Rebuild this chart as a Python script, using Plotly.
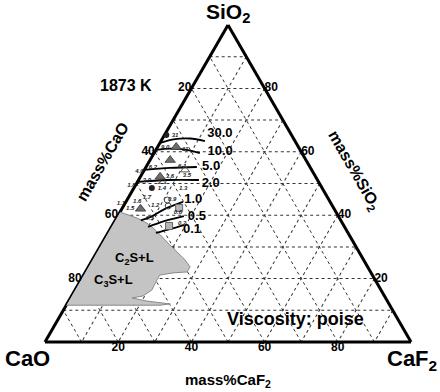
import plotly.graph_objects as go

FONT = "Liberation Sans, Arial, sans-serif"

# ---------------- data (mass%) ----------------
tick_values = [20, 40, 60, 80]

# primary phase field (C2S+L / C3S+L) boundary : SiO2, CaF2 (CaO = balance)
phase_sio2 = [41.0, 39.1, 37.5, 36.0, 33.8, 31.2, 28.4, 25.9, 23.7, 22.1, 21.8, 21.1, 19.6, 16.4, 14.5, 13.9, 12.9, 12.0, 11.6, 11.6]
phase_caf2 = [0.0, 5.6, 9.1, 11.5, 14.6, 18.0, 21.9, 25.3, 27.8, 27.8, 24.1, 20.8, 20.8, 21.0, 19.5, 16.8, 21.4, 28.2, 25.6, 0.0]

# iso-viscosity lines (poise)
visc_levels = ["30.0", "10.0", "5.0", "2.0", "1.0", "0.5", "0.1"]
visc_sio2 = [
    [62.8, 64.0, 64.2, 63.4],
    [60.6, 61.0, 60.7, 59.6],
    [54.3, 54.9, 55.2],
    [50.5, 51.1, 51.1],
    [38.4, 39.4, 42.0, 44.2],
    [36.3, 38.2, 39.7],
    [34.4, 35.6, 36.9],
]
visc_caf2 = [
    [0.0, 3.5, 7.5, 12.0],
    [0.0, 4.0, 8.0, 12.5],
    [0.0, 6.7, 13.9],
    [0.0, 7.8, 16.5],
    [7.0, 9.0, 11.8, 15.6],
    [10.0, 13.7, 18.1],
    [13.1, 16.3, 19.5],
]
label_sio2 = [65.6, 59.9, 55.2, 49.8, 44.8, 39.4, 35.3]
label_caf2 = [15.0, 17.9, 17.8, 20.4, 18.1, 21.8, 22.5]

# measured points
tri_sio2 = [61.5, 57.4, 52.1, 42.0]
tri_caf2 = [5.1, 5.5, 5.4, 5.1]
dot_sio2 = [65.3, 48.6]
dot_caf2 = [0.5, 4.9]
opentri_sio2 = [54.3]
opentri_caf2 = [11.1]
circ_sio2 = [44.8, 42.9]
circ_caf2 = [11.0, 12.2]
sq_sio2 = [42.3, 36.6]
sq_caf2 = [15.5, 15.6]

# measured viscosity values (inside)
val_text = ["31", "9.0", "11", "6.2", "6.1", "3.5", "3.6", "3.9", "2.3", "1.4", "1.3", "1.7", "1.6", "1.5", "1.2", "0.9", "0.6", "0.5", "0.2"]
val_sio2 = [65.3, 61.2, 60.6, 55.2, 55.5, 52.4, 52.1, 51.1, 50.2, 48.3, 48.3, 45.7, 44.2, 42.0, 43.2, 45.1, 41.0, 38.8, 37.5]
val_caf2 = [2.9, 2.2, 8.0, 1.9, 9.7, 12.6, 8.1, 2.3, 6.9, 7.8, 13.6, 5.0, 3.1, 2.3, 8.5, 12.2, 15.8, 9.3, 18.7]
# values written just outside the CaO-SiO2 edge
edge_text = ["7.2", "4.0", "1.8", "1.1"]
edge_sio2 = [59.9, 53.9, 49.5, 43.8]


def caO(s, f):
    return [100 - a - c for a, c in zip(s, f)]


fig = go.Figure()

# phase field
fig.add_trace(go.Scatterternary(
    a=phase_sio2, b=caO(phase_sio2, phase_caf2), c=phase_caf2,
    mode="lines", fill="toself", fillcolor="#c4c4c4",
    line=dict(color="#8a8a8a", width=1), hoverinfo="skip"))

# iso-viscosity lines
for lv, s, f in zip(visc_levels, visc_sio2, visc_caf2):
    fig.add_trace(go.Scatterternary(
        a=s, b=caO(s, f), c=f, mode="lines",
        line=dict(color="black", width=1.8, shape="spline"), hoverinfo="skip"))

fig.add_trace(go.Scatterternary(
    a=label_sio2, b=caO(label_sio2, label_caf2), c=label_caf2,
    mode="text", text=["<b>%s</b>" % t for t in visc_levels],
    textfont=dict(family=FONT, size=13, color="black"), cliponaxis=False))

# markers
fig.add_trace(go.Scatterternary(
    a=tri_sio2, b=caO(tri_sio2, tri_caf2), c=tri_caf2, mode="markers",
    marker=dict(symbol="triangle-up", size=9, color="#6e6e6e", line=dict(color="#333", width=0.8))))
fig.add_trace(go.Scatterternary(
    a=dot_sio2, b=caO(dot_sio2, dot_caf2), c=dot_caf2, mode="markers",
    marker=dict(symbol="circle", size=6, color="#222")))
fig.add_trace(go.Scatterternary(
    a=opentri_sio2, b=caO(opentri_sio2, opentri_caf2), c=opentri_caf2, mode="markers",
    marker=dict(symbol="triangle-up-open", size=8, color="#555")))
fig.add_trace(go.Scatterternary(
    a=circ_sio2, b=caO(circ_sio2, circ_caf2), c=circ_caf2, mode="markers",
    marker=dict(symbol="circle-open", size=6, color="#444")))
fig.add_trace(go.Scatterternary(
    a=sq_sio2, b=caO(sq_sio2, sq_caf2), c=sq_caf2, mode="markers",
    marker=dict(symbol="square", size=7, color="#b5b5b5", line=dict(color="#666", width=1))))

# small value labels
fig.add_trace(go.Scatterternary(
    a=val_sio2, b=caO(val_sio2, val_caf2), c=val_caf2, mode="text",
    text=["<i><b>%s</b></i>" % t for t in val_text],
    textfont=dict(family=FONT, size=6, color="#222"), cliponaxis=False))
fig.add_trace(go.Scatterternary(
    a=edge_sio2, b=[100 - s for s in edge_sio2], c=[0] * len(edge_sio2), mode="text",
    text=["<i><b>%s</b></i>" % t for t in edge_text], textposition="middle left",
    textfont=dict(family=FONT, size=6, color="#222"), cliponaxis=False))

# tick labels
tf = dict(family=FONT, size=12, color="black")
fig.add_trace(go.Scatterternary(  # CaO on left edge
    a=[100 - v for v in tick_values], b=tick_values, c=[0] * 4, mode="text",
    text=["<b>%d</b>" % v for v in tick_values], textposition="middle left",
    textfont=tf, cliponaxis=False))
fig.add_trace(go.Scatterternary(  # CaF2 on bottom edge
    a=[0] * 4, b=[100 - v for v in tick_values], c=tick_values, mode="text",
    text=["<b>%d</b>" % v for v in tick_values], textposition="bottom center",
    textfont=tf, cliponaxis=False))
fig.add_trace(go.Scatterternary(  # SiO2 on right edge
    a=tick_values, b=[0] * 4, c=[100 - v for v in tick_values], mode="text",
    text=["<b>%d</b>" % v for v in tick_values], textposition="middle right",
    textfont=tf, cliponaxis=False))

axis = dict(showticklabels=False, ticks="", showgrid=True, gridcolor="#333",
            gridwidth=0.8, griddash="dot", dtick=10, tick0=0,
            showline=True, linecolor="black", linewidth=3, title=dict(text=""),
            layer="below traces")

W, H = 440, 392
fig.update_layout(
    width=W, height=H, margin=dict(l=0, r=0, t=0, b=0),
    paper_bgcolor="white", showlegend=False,
    ternary=dict(sum=100, bgcolor="white",
                 domain=dict(x=[45 / W, 411 / W], y=[1 - 342 / H, 1 - 25 / H]),
                 aaxis=axis, baxis=axis, caxis=axis),
    font=dict(family=FONT, color="black"),
)

def ann(text, x, y, size, angle=0):
    fig.add_annotation(text=text, x=x / W, y=1 - y / H, xref="paper", yref="paper",
                       showarrow=False, textangle=angle, xanchor="center", yanchor="middle",
                       font=dict(family=FONT, size=size, color="black"))

ann("<b>SiO<sub>2</sub></b>", 228, 13, 21)
ann("<b>CaO</b>", 28, 358, 22)
ann("<b>CaF<sub>2</sub></b>", 412, 360, 22)
ann("<b>mass%CaF<sub>2</sub></b>", 228, 380, 15)
ann("<b>mass%CaO</b>", 103, 162, 16, -60)
ann("<b>mass%SiO<sub>2</sub></b>", 354, 170, 16, 60)
ann("<b>1873 K</b>", 126, 86, 16)
ann("<b>Viscosity: poise</b>", 295, 319, 18)
ann("<b>C<sub>2</sub>S+L</b>", 134, 258, 13)
ann("<b>C<sub>3</sub>S+L</b>", 113, 280, 13)

fig.write_html("out.html", config={"displayModeBar": False},
               post_script="document.body.style.margin='0';document.body.style.overflow='hidden';")
